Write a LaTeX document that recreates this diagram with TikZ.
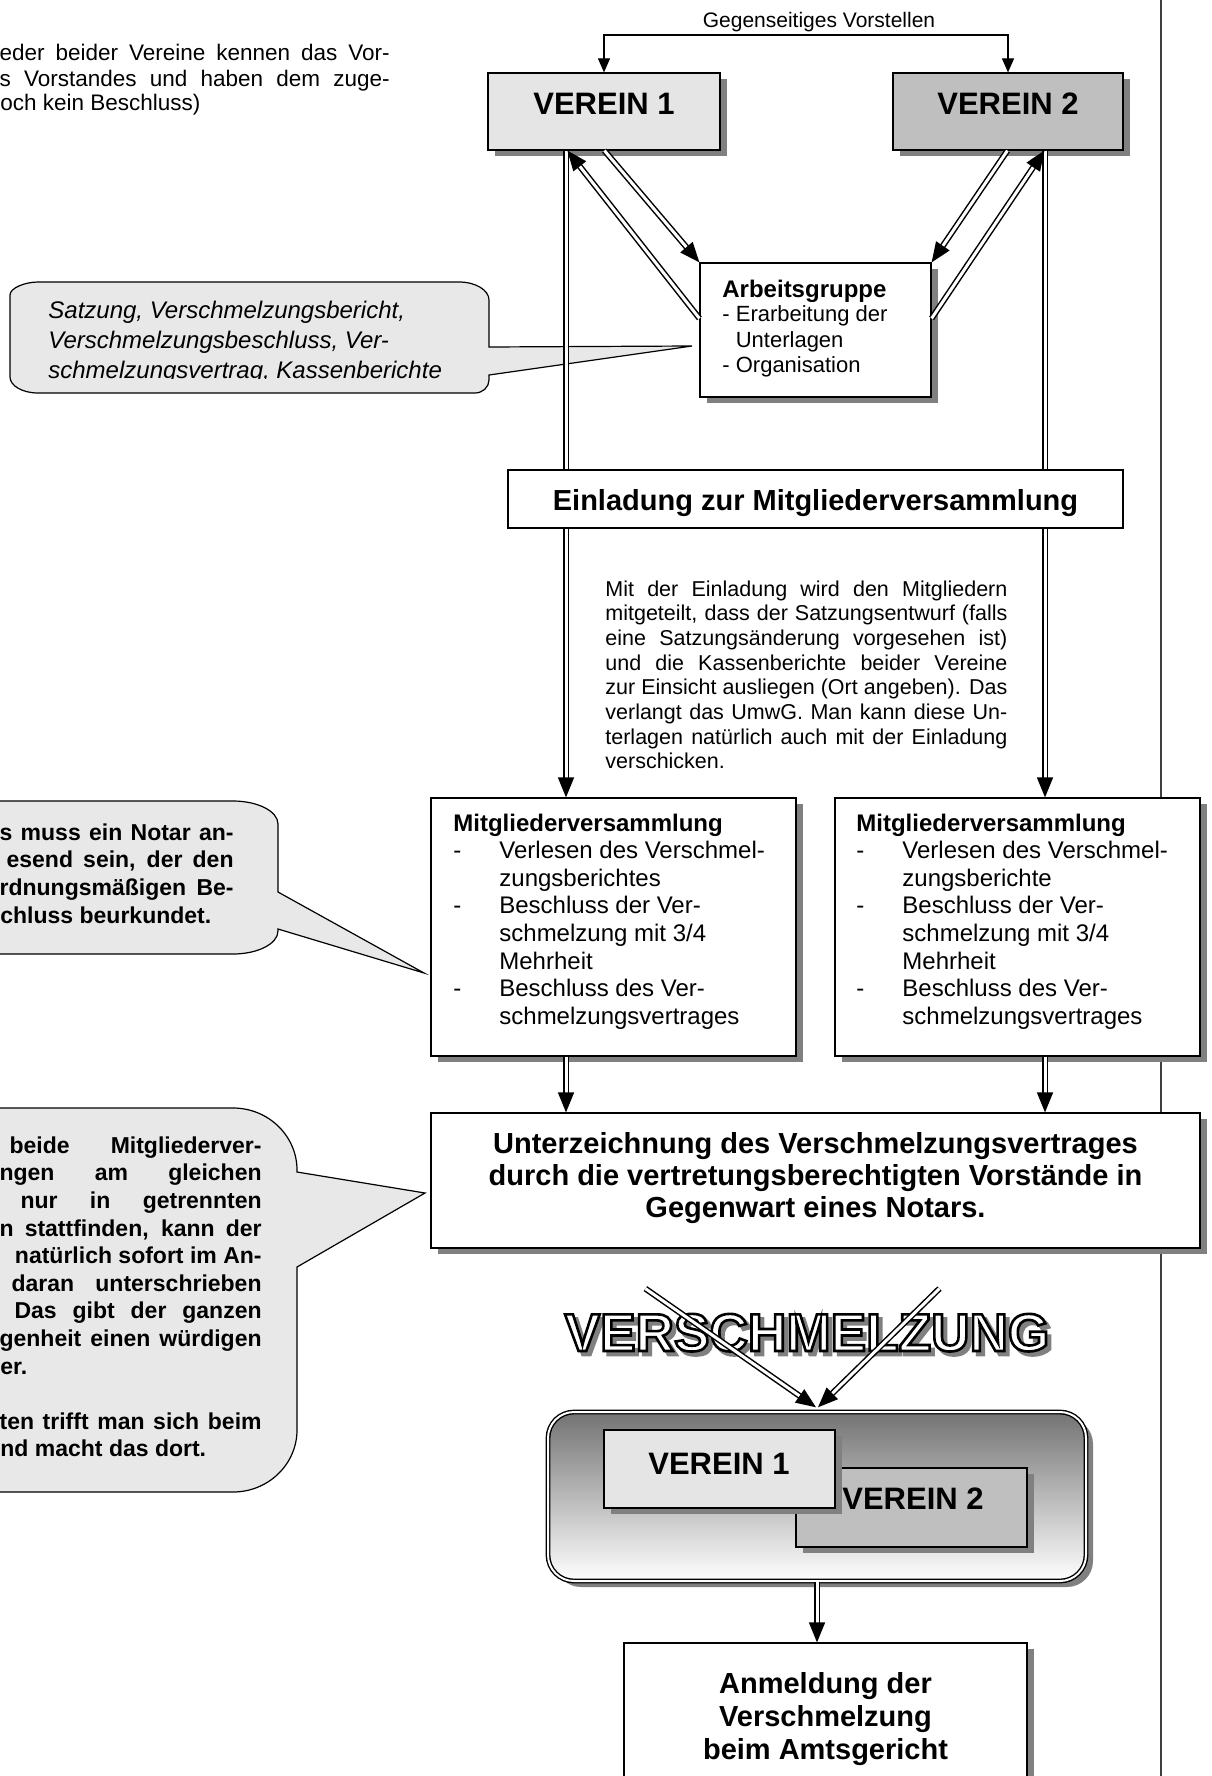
\documentclass[tikz,border=0pt]{standalone}
\usepackage{fontspec}
\setmainfont{Liberation Sans}
\usetikzlibrary{arrows.meta,calc}
\definecolor{lightbox}{gray}{0.9}
\definecolor{midbox}{gray}{0.75}
\definecolor{shadowc}{gray}{0.5}
\definecolor{callfill}{gray}{0.91}
\newlength\jlw
\newcommand\jline[2]{\settowidth\jlw{#2}\ifdim\jlw<#1\relax\setlength\jlw{#1}\fi\makebox[\jlw][s]{#2}}
\newcommand\outlinetext[3]{{\color{#1}\special{pdf:literal direct #2 G 2 Tr 1.3 w}#3\special{pdf:literal direct 0 Tr}}}
\tikzset{
 shadowed/.style={preaction={fill=shadowc, draw=none, transform canvas={xshift=3.5pt,yshift=-3pt}}},
 box/.style={draw=black, line width=0.6pt, fill=white, inner sep=0pt, shadowed},
 dblarrow/.style={draw=black, line width=0.75pt, double=white, double distance=1.5pt, -{Triangle[length=10pt,width=8pt]}},
 sarrow/.style={draw=black, line width=0.6pt, {Triangle[length=7pt,width=6pt]}-{Triangle[length=7pt,width=6pt]}},
 callout/.style={draw=black, line width=0.6pt, fill=callfill},
 vtxt/.style={font=\bfseries\fontsize{15.5}{18}\selectfont, anchor=base, inner sep=0pt},
 blk/.style={anchor=north west, inner sep=0pt, align=left},
 vz/.style={font=\bfseries\fontsize{26.6}{30}\selectfont, anchor=base, inner sep=0pt},
 cl2/.style={font=\bfseries\fontsize{11.5}{13.8}\selectfont, inner sep=0pt},
}
\begin{document}
\begin{tikzpicture}[x=0.5pt,y=-0.5pt]
\useasboundingbox (0,0) rectangle (1211,1776);
\fill[white] (0,0) rectangle (1211,1776);
% right rule
\draw[line width=0.9pt, black!75] (1161,-5) -- (1161,1790);

% ---------- callouts ----------
\filldraw[callout] (489,375) -- (489,380) .. controls (489,387.2) and (482.7,393) .. (475,393)
  -- (38,393) .. controls (22.5,393) and (10,385.8) .. (10,377)
  -- (10,295) .. controls (10,287.8) and (25.5,282) .. (38,282)
  -- (459,282) .. controls (475.6,282) and (489,290.1) .. (489,300)
  -- (489,347) -- (692,346) -- cycle;
\begin{scope}
\clip (0,0) rectangle (1211,378.5);
\node[blk, font=\itshape\fontsize{12}{15}\selectfont] (c1t) at (48,296.6)
 {\strut Satzung, Verschmelzungsbericht,\\Verschmelzungsbeschluss, Ver-\\schmelzungsvertrag, Kassenberichte};
\end{scope}

\filldraw[callout] (278,892) -- (424,973) -- (278,929) -- (278,931)
  .. controls (278,943.7) and (257.8,954) .. (233,954) -- (-100,954) -- (-100,801) -- (233,801)
  .. controls (257.8,801) and (278,811.3) .. (278,824) -- cycle;
\node[cl2, anchor=base east] (c2a) at (234,840.2) {\jline{117pt}{s muss ein Notar an-}};
\node[cl2, anchor=base east] (c2b) at (234,867.9) {\jline{113.5pt}{esend sein, der den}};
\node[cl2, anchor=base east] (c2c) at (234,895.6) {\jline{117pt}{rdnungsmäßigen Be-}};
\node[cl2, anchor=base west] (c2d) at (0,923.3) {chluss beurkundet.};

\filldraw[callout] (297,1267) -- (297,1430) .. controls (297,1464.2) and (268.3,1492) .. (233,1492)
  -- (-100,1492) -- (-100,1108) -- (233,1108)
  .. controls (268.3,1108) and (297,1135.8) .. (297,1170) -- (297,1172) -- (425,1193) -- cycle;
\node[cl2, anchor=base east] (c3a) at (262,1153.2) {\jline{126pt}{beide Mitgliederver-}};
\node[cl2, anchor=base east] (c3b) at (262,1180.8) {\jline{131pt}{ngen am gleichen}};
\node[cl2, anchor=base east] (c3c) at (262,1208.4) {\jline{120.5pt}{nur in getrennten}};
\node[cl2, anchor=base east] (c3d) at (262,1236.0) {\jline{131pt}{n stattfinden, kann der}};
\node[cl2, anchor=base east] (c3e) at (262,1263.6) {\jline{117.5pt}{natürlich sofort im An-}};
\node[cl2, anchor=base east] (c3f) at (262,1291.2) {\jline{125pt}{daran unterschrieben}};
\node[cl2, anchor=base east] (c3g) at (262,1318.8) {\jline{123.5pt}{Das gibt der ganzen}};
\node[cl2, anchor=base east] (c3h) at (262,1346.4) {\jline{131pt}{genheit einen würdigen}};
\node[cl2, anchor=base west] (c3i) at (0,1374.0) {er.};
\node[cl2, anchor=base east] (c3j) at (262,1429.2) {\jline{131pt}{ten trifft man sich beim}};
\node[cl2, anchor=base west] (c3k) at (0,1456.8) {nd macht das dort.};

% ---------- top-left text ----------
\node[anchor=base east, inner sep=0pt, font=\fontsize{11.25}{12.5}\selectfont] (tl1) at (390,61) {\jline{195pt}{eder beider Vereine kennen das Vor-}};
\node[anchor=base east, inner sep=0pt, font=\fontsize{11.25}{12.5}\selectfont] (tl2) at (390,86.5) {\jline{195pt}{s Vorstandes und haben dem zuge-}};
\node[anchor=base west, inner sep=0pt, font=\fontsize{11.25}{12.5}\selectfont] (tl3) at (0,111) {och kein Beschluss)};

\node[anchor=base, inner sep=0pt, font=\fontsize{10.5}{12}\selectfont] (gv) at (819,27.5) {Gegenseitiges Vorstellen};

% ---------- boxes ----------
\node[box, fill=lightbox, minimum width=116pt, minimum height=38.5pt] (v1) at (604,111.5) {};
\node[vtxt] (v1t) at (604,115) {VEREIN 1};
\node[box, fill=midbox, minimum width=115pt, minimum height=38.5pt] (v2) at (1008,111.5) {};
\node[vtxt] (v2t) at (1008,115) {VEREIN 2};

\node[box, minimum width=115.5pt, minimum height=67pt] (ag) at (815.5,330) {};
\node[blk, font=\fontsize{11}{12.5}\selectfont] (agt) at (722,279.1)
 {\strut{\bfseries\fontsize{12}{12.5}\selectfont Arbeitsgruppe}\\- Erarbeitung der\\\hphantom{- }Unterlagen\\- Organisation};

\node[blk, font=\fontsize{10.75}{12.35}\selectfont] (info) at (605,578.4)
 {\strut\jline{201pt}{Mit der Einladung wird den Mitgliedern}\\
  \jline{201pt}{mitgeteilt, dass der Satzungsentwurf (falls}\\
  \jline{201pt}{eine Satzungsänderung vorgesehen ist)}\\
  \jline{201pt}{und die Kassenberichte beider Vereine}\\
  \jline{201pt}{zur Einsicht ausliegen (Ort angeben). Das}\\
  \jline{201pt}{verlangt das UmwG. Man kann diese Un-}\\
  \jline{201pt}{terlagen natürlich auch mit der Einladung}\\
  verschicken.};

\node[box, minimum width=182.5pt, minimum height=129pt] (mv1) at (613.5,927) {};
\node[blk, font=\fontsize{12}{13.8}\selectfont] (mv1t) at (453,811.3)
 {\strut{\bfseries Mitgliederversammlung}\\
  \makebox[23pt][l]{-}Verlesen des Verschmel-\\
  \hspace*{23pt}zungsberichtes\\
  \makebox[23pt][l]{-}Beschluss der Ver-\\
  \hspace*{23pt}schmelzung mit 3/4\\
  \hspace*{23pt}Mehrheit\\
  \makebox[23pt][l]{-}Beschluss des Ver-\\
  \hspace*{23pt}schmelzungsvertrages};
\node[box, minimum width=182.5pt, minimum height=129pt] (mv2) at (1017.5,927) {};
\node[blk, font=\fontsize{12}{13.8}\selectfont] (mv2t) at (856,811.3)
 {\strut{\bfseries Mitgliederversammlung}\\
  \makebox[23pt][l]{-}Verlesen des Verschmel-\\
  \hspace*{23pt}zungsberichte\\
  \makebox[23pt][l]{-}Beschluss der Ver-\\
  \hspace*{23pt}schmelzung mit 3/4\\
  \hspace*{23pt}Mehrheit\\
  \makebox[23pt][l]{-}Beschluss des Ver-\\
  \hspace*{23pt}schmelzungsvertrages};

\node[box, minimum width=384.5pt, minimum height=67.5pt] (ut) at (815.5,1180.5) {};
\node[anchor=north, inner sep=0pt, align=center, font=\bfseries\fontsize{14.5}{16}\selectfont] (utt) at (815.5,1131)
 {\strut Unterzeichnung des Verschmelzungsvertrages\\durch die vertretungsberechtigten Vorstände in\\Gegenwart eines Notars.};

\node[shadowed, draw=black, line width=0.7pt, double=white, double distance=1pt, rounded corners=13pt,
  top color=black!55, bottom color=white, minimum width=269pt, minimum height=84.5pt, inner sep=0pt] (mb) at (817,1496.5) {};
\node[box, fill=midbox, minimum width=115.5pt, minimum height=39.5pt] (iv2) at (911.5,1507.5) {};
\node[vtxt] (iv2t) at (913,1509) {VEREIN 2};
\node[box, fill=lightbox, minimum width=115.5pt, minimum height=39pt] (iv1) at (719.5,1469) {};
\node[vtxt] (iv1t) at (719,1474) {VEREIN 1};

\node[box, minimum width=201.5pt, minimum height=78.5pt] (anm) at (825.5,1721.5) {};
\node[anchor=north, inner sep=0pt, align=center, font=\bfseries\fontsize{14.5}{16.5}\selectfont] (anmt) at (825.5,1670.3)
 {\strut Anmeldung der\\Verschmelzung\\beim Amtsgericht};

% ---------- VERSCHMELZUNG (outlined, with shadow) ----------
\coordinate (vzc) at (807,1351);
\node[vz] (vzw) at (vzc)
 {\rlap{\kern2pt\raisebox{-2pt}{\outlinetext{shadowc}{0.5}{VERSCHMELZUNG}}}\outlinetext{white}{0}{VERSCHMELZUNG}};

% ---------- connectors ----------
\coordinate (gtop) at (0,35);
\coordinate (cl) at (566,0);
\coordinate (cr) at (1045,0);
\draw[sarrow] (v1.north) -- (v1.north |- gtop) -- (v2.north |- gtop) -- (v2.north);

\draw[dblarrow] (v1.south -| cl) -- (mv1.north -| cl);
\draw[dblarrow] (v2.south -| cr) -- (mv2.north -| cr);
\draw[dblarrow] ($(v1.south west)+(117,0)$) -- (ag.north west);
\draw[dblarrow] ($(ag.north west)+(0,56)$) -- ($(v1.south west)+(80,0)$);
\draw[dblarrow] ($(v2.south west)+(115,0)$) -- (ag.north east);
\draw[dblarrow] ($(ag.north east)+(0,56)$) -- ($(v2.south west)+(152,0)$);
\draw[dblarrow] (mv1.south -| cl) -- (ut.north -| cl);
\draw[dblarrow] (mv2.south -| cr) -- (ut.north -| cr);
\coordinate (utl) at ($(ut.south west)+(215,40)$);
\coordinate (utr) at ($(ut.south west)+(509,40)$);
\draw[dblarrow] (utl) -- ($(mb.north)+(-1,-4)$);
\draw[dblarrow] (utr) -- ($(mb.north)+(1,-4)$);
\draw[dblarrow] (mb.south) -- (anm.north -| mb.south);

% Einladung box on top of the vertical lines
\node[draw=black, line width=0.6pt, fill=white, minimum width=307.5pt, minimum height=29pt, inner sep=0pt] (ein) at (815.5,499) {};
\node[anchor=base, inner sep=0pt, font=\bfseries\fontsize{14.5}{16}\selectfont] (eint) at (815.5,510.4) {Einladung zur Mitgliederversammlung};
\end{tikzpicture}
\end{document}
